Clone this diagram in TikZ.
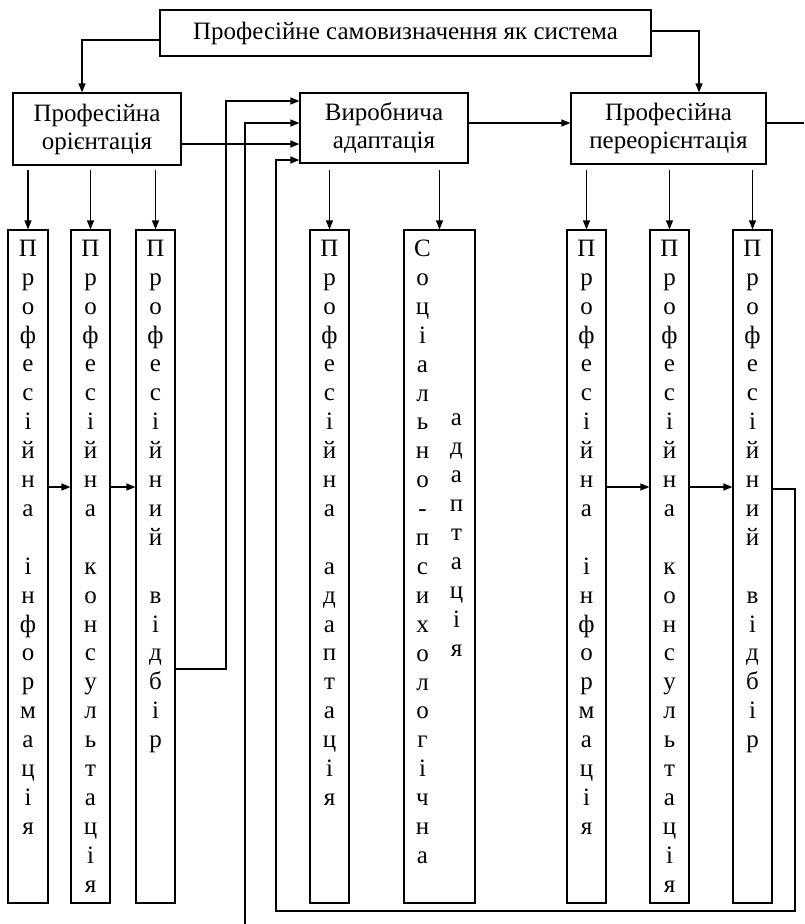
\documentclass[tikz,border=0pt]{standalone}
\usepackage{fontspec}
\setmainfont{Liberation Serif}
\usetikzlibrary{arrows.meta}

\begin{document}
\begin{tikzpicture}[x=1pt,y=-1pt,line width=1.2pt,
    font=\fontsize{25}{28}\selectfont,
    box/.style={draw,inner sep=0pt,align=center},
    colbox/.style={draw,inner sep=0pt,minimum height=673pt},
    letters/.style={anchor=north,inner sep=0pt,align=center,
      font=\fontsize{25}{28.9}\selectfont},
    arr/.style={-{Triangle[length=9pt,width=7pt]}}]
  \useasboundingbox (0,0) rectangle (804,924);

  % upper row
  \node[box,minimum width=491pt,minimum height=46pt] (sys) at (405.5,33)
    {Професійне самовизначення як система};
  \node[box,minimum width=168pt,minimum height=72pt] (orient) at (97,129)
    {Професійна\\орієнтація};
  \node[box,minimum width=168pt,minimum height=70pt] (vyrob) at (384,128)
    {Виробнича\\адаптація};
  \node[box,minimum width=195pt,minimum height=71pt] (pereor) at (668.5,128.5)
    {Професійна\\переорієнтація};

  % columns
  \node[colbox,minimum width=40pt] (c1) at (28,566.5) {};
  \node[colbox,minimum width=39pt] (c2) at (90.5,566.5) {};
  \node[colbox,minimum width=39pt] (c3) at (155.5,566.5) {};
  \node[colbox,minimum width=39pt] (c4) at (329.5,566.5) {};
  \node[colbox,minimum width=71pt] (c5) at (439.5,566.5) {};
  \node[colbox,minimum width=39pt] (c6) at (586.5,566.5) {};
  \node[colbox,minimum width=39pt] (c7) at (669.5,566.5) {};
  \node[colbox,minimum width=39pt] (c8) at (752.5,566.5) {};

  \node[letters] (t1) at ([yshift=-10pt]c1.north)
    {П\\р\\о\\ф\\е\\с\\і\\й\\н\\а\\~\\і\\н\\ф\\о\\р\\м\\а\\ц\\і\\я};
  \node[letters] (t2) at ([yshift=-10pt]c2.north)
    {П\\р\\о\\ф\\е\\с\\і\\й\\н\\а\\~\\к\\о\\н\\с\\у\\л\\ь\\т\\а\\ц\\і\\я};
  \node[letters] (t3) at ([yshift=-10pt]c3.north)
    {П\\р\\о\\ф\\е\\с\\і\\й\\н\\и\\й\\~\\в\\і\\д\\б\\і\\р};
  \node[letters] (t4) at ([yshift=-10pt]c4.north)
    {П\\р\\о\\ф\\е\\с\\і\\й\\н\\а\\~\\а\\д\\а\\п\\т\\а\\ц\\і\\я};
  \node[letters] (t5a) at ([xshift=-17pt,yshift=-10pt]c5.north)
    {С\\о\\ц\\і\\а\\л\\ь\\н\\о\\-\\п\\с\\и\\х\\о\\л\\о\\г\\і\\ч\\н\\а};
  \node[letters] (t5b) at ([xshift=17pt,yshift=-183.4pt]c5.north)
    {а\\д\\а\\п\\т\\а\\ц\\і\\я};
  \node[letters] (t6) at ([yshift=-10pt]c6.north)
    {П\\р\\о\\ф\\е\\с\\і\\й\\н\\а\\~\\і\\н\\ф\\о\\р\\м\\а\\ц\\і\\я};
  \node[letters] (t7) at ([yshift=-10pt]c7.north)
    {П\\р\\о\\ф\\е\\с\\і\\й\\н\\а\\~\\к\\о\\н\\с\\у\\л\\ь\\т\\а\\ц\\і\\я};
  \node[letters] (t8) at ([yshift=-10pt]c8.north)
    {П\\р\\о\\ф\\е\\с\\і\\й\\н\\и\\й\\~\\в\\і\\д\\б\\і\\р};

  % rows for the links
  \coordinate (rowA) at (0,487);
  \coordinate (rowB) at (0,669);
  \coordinate (rowC) at (0,489);
  \coordinate (outR) at (804,123);
  \coordinate (inB) at (245,924);
  \coordinate (v1) at ([yshift=5pt]vyrob.east);

  \draw[arr] ([yshift=-7pt]sys.west) -| ([xshift=-15pt]orient.north);
  \draw[arr] ([yshift=2pt]sys.east) -| ([xshift=30.5pt]pereor.north);
  \draw[arr] ([yshift=-15pt]orient.east) -- ([yshift=-16pt]vyrob.west);
  \draw[arr] (v1) -- (v1 -| pereor.west);
  \draw ([yshift=5.5pt]pereor.east) -- (outR);

  \foreach \c in {c1,c2,c3}
    \draw[arr,shorten <=4pt] (\c.north |- orient.south) -- (\c.north);
  \foreach \c in {c4,c5}
    \draw[arr,shorten <=6pt] (\c.north |- vyrob.south) -- (\c.north);
  \foreach \c in {c6,c7,c8}
    \draw[arr,shorten <=5pt] (\c.north |- pereor.south) -- (\c.north);

  \draw[arr] (c1.east |- rowA) -- (c2.west |- rowA);
  \draw[arr] (c2.east |- rowA) -- (c3.west |- rowA);
  \draw[arr] (c6.east |- rowA) -- (c7.west |- rowA);
  \draw[arr] (c7.east |- rowA) -- (c8.west |- rowA);

  % back to production adaptation
  \draw[arr] (c3.east |- rowB) -| (226,101) -- ([yshift=27pt]vyrob.west);
  \draw[arr] (inB) |- ([yshift=5pt]vyrob.west);
  \draw[arr] (c8.east |- rowC) -| (795,911) -| (276,160)
    -- ([yshift=-32pt]vyrob.west);
\end{tikzpicture}
\end{document}
